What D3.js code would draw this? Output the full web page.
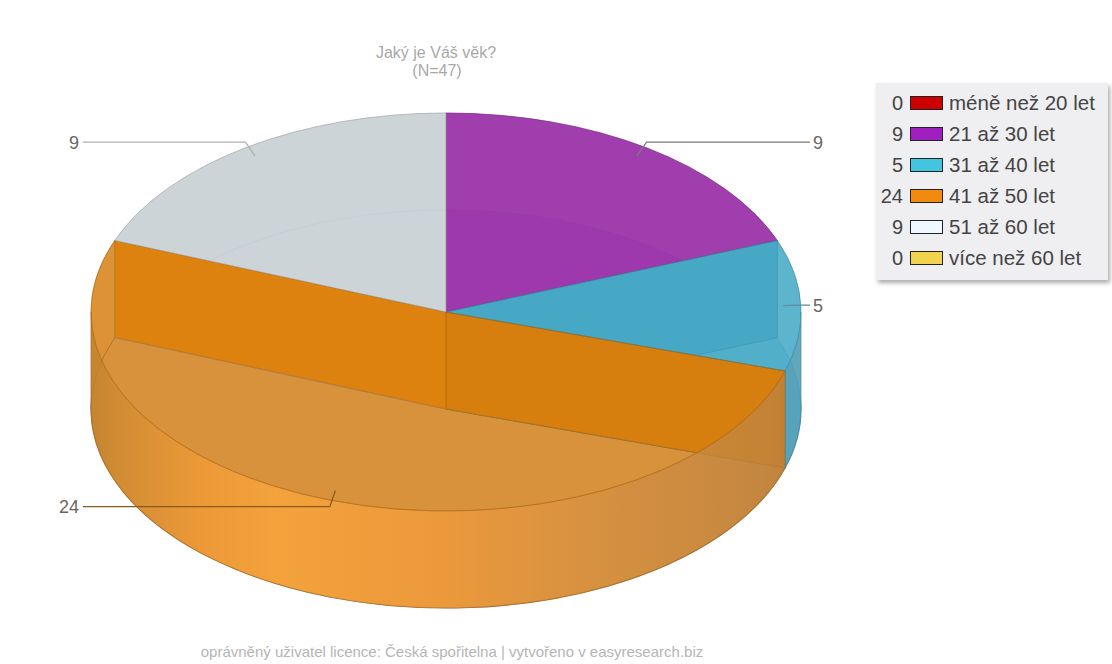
<!DOCTYPE html>
<html>
<head>
<meta charset="utf-8">
<script src="https://cdn.jsdelivr.net/npm/d3@7"></script>
<style>
  body { margin: 0; background: #fff; }
  svg { display: block; font-family: "Liberation Sans", Arial, sans-serif; }
</style>
</head>
<body>
<svg id="chart" width="1112" height="664"></svg>
<script>
// Age groups and respondent counts
const categories = ["méně než 20 let", "21 až 30 let", "31 až 40 let", "41 až 50 let", "51 až 60 let", "více než 60 let"];
const counts = [0, 9, 5, 24, 9, 0];
const legendColors = ["#cc0000", "#a01fbf", "#42c6df", "#f18b10", "#f0f8ff", "#f2d34e"];
const titleText = "Jaký je Váš věk?";
const footerText = "oprávněný uživatel licence: Česká spořitelna | vytvořeno v easyresearch.biz";

// Shading of the 3D faces, per slice index
const faceStyle = {
  0: { top: "#c0302a", topOp: 0.85, bottom: "#c0302a", side: "#b02a25", back: "#c0302a", front: "#b02a25" },
  1: { top: "#9d3aac", topOp: 0.85, bottom: "#9d3aac", side: "#93339f", back: "#a448b2", front: "#8a3099" },
  2: { top: "#45a9c6", topOp: 0.75, bottom: "#76bfd4", side: "#45a9c6", back: "#98cfde", front: "#4f9cb4" },
  3: { top: "#e08010", topOp: 0.12, bottom: "#d79441", side: "#de7c04", back: "#d98a26", front: "url(#frontWall)" },
  4: { top: "#ccd4d8", topOp: 0.85, bottom: "#ccd4d8", side: "#c2cace", back: "#c6ced2", front: "#c6ced2" },
  5: { top: "#e0c050", topOp: 0.85, bottom: "#e0c050", side: "#d0b040", back: "#e0c050", front: "#d0b040" }
};
const leaderColors = { 1: "#7a7a7a", 2: "#5e8e9e", 3: "#8a5a1e", 4: "#b0b0b0" };

const svg = d3.select("#chart");
const defs = svg.append("defs");

// Horizontal light gradient along the front wall
const grad = defs.append("linearGradient").attr("id", "frontWall")
  .attr("gradientUnits", "userSpaceOnUse").attr("x1", 91).attr("x2", 801).attr("y1", 0).attr("y2", 0);
[[0, "#c0802e"], [0.04, "#d08a30"], [0.15, "#f09a35"], [0.26, "#fba53b"], [0.5, "#f09a3a"],
 [0.71, "#d69040"], [0.94, "#c0843f"], [1, "#b87e3c"]]
  .forEach(([o, c]) => grad.append("stop").attr("offset", o).attr("stop-color", c));

const shadow = defs.append("filter").attr("id", "legendShadow")
  .attr("x", "-10%").attr("y", "-10%").attr("width", "130%").attr("height", "130%");
shadow.append("feDropShadow").attr("dx", 2).attr("dy", 3).attr("stdDeviation", 2)
  .attr("flood-color", "#777").attr("flood-opacity", 0.6);

// Pie geometry
const cx = 446, cy = 312, rx = 355, ry = 199, depth = 97;
const pie = d3.pie().value(d => d).sort(null).startAngle(0).endAngle(2 * Math.PI);
const arcs = pie(counts).map((a, i) => Object.assign({}, a, { i })).filter(a => a.value > 0);

const pt = (a, dy = 0, k = 1) => [cx + k * rx * Math.sin(a), cy + dy - k * ry * Math.cos(a)];
const large = (a0, a1) => (a1 - a0) > Math.PI ? 1 : 0;

function sector(a0, a1, dy) {
  return `M${cx},${cy + dy}L${pt(a0, dy)}A${rx},${ry} 0 ${large(a0, a1)} 1 ${pt(a1, dy)}Z`;
}
function outerWall(a0, a1) {
  const L = large(a0, a1);
  return `M${pt(a0)}A${rx},${ry} 0 ${L} 1 ${pt(a1)}L${pt(a1, depth)}A${rx},${ry} 0 ${L} 0 ${pt(a0, depth)}Z`;
}
function radialWall(a) {
  return `M${cx},${cy}L${pt(a)}L${pt(a, depth)}L${cx},${cy + depth}Z`;
}
// split an angular span into parts facing back / front
const H = Math.PI / 2, H3 = 3 * Math.PI / 2;
function clip(a0, a1, lo, hi) {
  const s = Math.max(a0, lo), e = Math.min(a1, hi);
  return e > s + 1e-6 ? [[s, e]] : [];
}
const backParts = a => [...clip(a.startAngle, a.endAngle, 0, H), ...clip(a.startAngle, a.endAngle, H3, 2 * Math.PI)];
const frontParts = a => clip(a.startAngle, a.endAngle, H, H3);

const g = svg.append("g");
const dark = c => c.startsWith("url") ? "#9a6a2a" : d3.color(c).darker(0.7).formatHex();

// 1. bottoms
g.append("g").selectAll("path").data(arcs).join("path")
  .attr("d", a => sector(a.startAngle, a.endAngle, depth))
  .attr("fill", a => faceStyle[a.i].bottom)
  .attr("stroke", a => dark(faceStyle[a.i].bottom)).attr("stroke-width", 1.2);

// 2. back outer walls
arcs.forEach(a => backParts(a).forEach(([s, e]) => {
  g.append("path").attr("d", outerWall(s, e))
    .attr("fill", faceStyle[a.i].back).attr("fill-opacity", 0.9)
    .attr("stroke", dark(faceStyle[a.i].back)).attr("stroke-opacity", 0.5).attr("stroke-width", 0.8);
}));

// 3. radial walls, back slices first
const depthOrder = arcs.slice().sort((p, q) =>
  Math.cos((q.startAngle + q.endAngle) / 2) - Math.cos((p.startAngle + p.endAngle) / 2));
depthOrder.forEach(a => {
  [a.startAngle, a.endAngle].forEach(ang => {
    g.append("path").attr("d", radialWall(ang))
      .attr("fill", faceStyle[a.i].side).attr("fill-opacity", 0.95)
      .attr("stroke", dark(faceStyle[a.i].side)).attr("stroke-opacity", 0.6).attr("stroke-width", 0.9);
  });
});

// 4. front outer walls
arcs.forEach(a => frontParts(a).forEach(([s, e]) => {
  g.append("path").attr("d", outerWall(s, e))
    .attr("fill", faceStyle[a.i].front).attr("fill-opacity", 0.8)
    .attr("stroke", dark(faceStyle[a.i].front)).attr("stroke-opacity", 0.5).attr("stroke-width", 0.8);
}));

// 5. top faces
g.append("g").selectAll("path").data(arcs).join("path")
  .attr("d", a => sector(a.startAngle, a.endAngle, 0))
  .attr("fill", a => faceStyle[a.i].top).attr("fill-opacity", a => faceStyle[a.i].topOp)
  .attr("stroke", a => dark(faceStyle[a.i].top)).attr("stroke-opacity", 0.55).attr("stroke-width", 0.9);

// Value labels with leader lines
const labels = svg.append("g");
arcs.forEach(a => {
  const mid = (a.startAngle + a.endAngle) / 2;
  const s = pt(mid, 0, 0.95);
  const e = [s[0] + 17 * Math.sin(mid), s[1] - 17 * Math.cos(mid)];
  const right = Math.sin(mid) > 0;
  const endX = right ? 810 : 83;
  labels.append("path")
    .attr("d", `M${s}L${e}L${endX},${e[1]}`)
    .attr("fill", "none").attr("stroke", leaderColors[a.i]).attr("stroke-width", 1.3);
  labels.append("text")
    .attr("x", right ? endX + 3 : endX - 4).attr("y", e[1]).attr("dy", "0.36em")
    .attr("text-anchor", right ? "start" : "end")
    .attr("font-size", 18).attr("fill", "#666").text(a.value);
});

// Title
svg.append("text").attr("x", 436).attr("y", 58).attr("text-anchor", "middle")
  .attr("font-size", 16).attr("fill", "#a8a8a8").text(titleText);
svg.append("text").attr("x", 437).attr("y", 76).attr("text-anchor", "middle")
  .attr("font-size", 16).attr("fill", "#a8a8a8").text(`(N=${d3.sum(counts)})`);

// Legend
const lg = svg.append("g");
lg.append("rect").attr("x", 876).attr("y", 83).attr("width", 232).attr("height", 197)
  .attr("fill", "#efeff1").attr("filter", "url(#legendShadow)");
const rowY = d3.scalePoint().domain(d3.range(categories.length)).range([103, 258]);
categories.forEach((c, i) => {
  const y = rowY(i);
  lg.append("text").attr("x", 903).attr("y", y).attr("dy", "0.36em").attr("text-anchor", "end")
    .attr("font-size", 20).attr("fill", "#444").text(counts[i]);
  lg.append("rect").attr("x", 910.5).attr("y", y - 6.5).attr("width", 32).attr("height", 13)
    .attr("fill", legendColors[i]).attr("stroke", "#222").attr("stroke-width", 1);
  lg.append("text").attr("x", 949).attr("y", y).attr("dy", "0.36em")
    .attr("font-size", 20.5).attr("fill", "#444").text(c);
});

// Footer
svg.append("text").attr("x", 452).attr("y", 657).attr("text-anchor", "middle")
  .attr("font-size", 15).attr("fill", "#b5b5b5").text(footerText);
</script>
</body>
</html>
